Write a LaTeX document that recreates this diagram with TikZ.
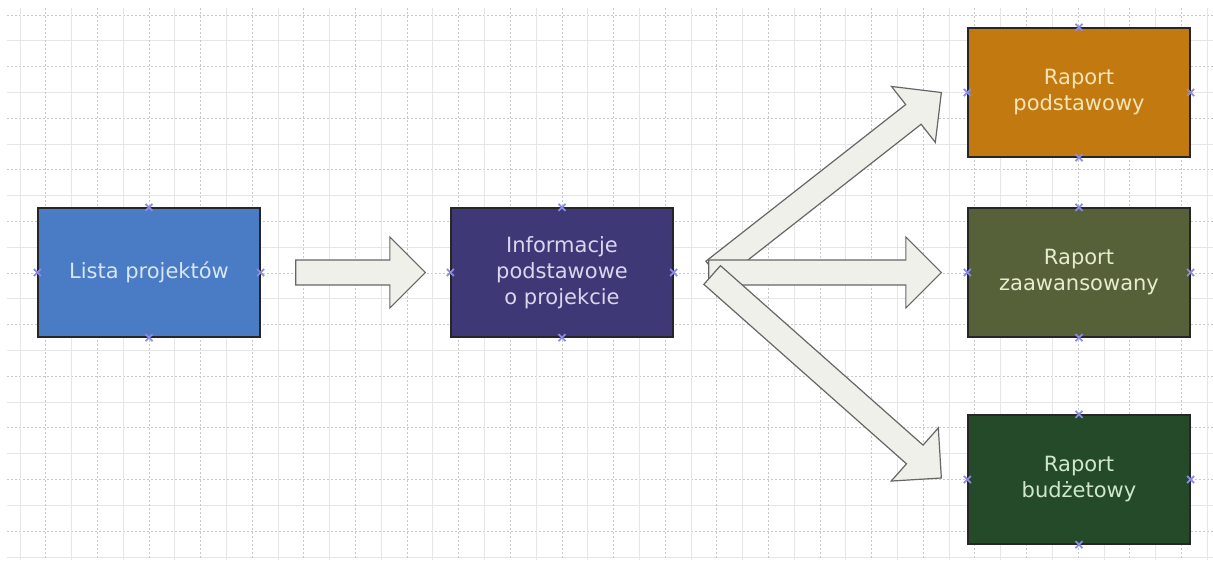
\documentclass[tikz,border=0pt]{standalone}
\usepackage{fontspec}
\setmainfont{DejaVu Sans}
\usetikzlibrary{calc}
\definecolor{gridsolid}{HTML}{E6E6E6}
\definecolor{griddash}{HTML}{C8C8C8}
\definecolor{cblue}{HTML}{4A7BC5}
\definecolor{tblue}{HTML}{D6E6F5}
\definecolor{cpurple}{HTML}{3E3877}
\definecolor{tpurple}{HTML}{DAD6EE}
\definecolor{corange}{HTML}{C27A10}
\definecolor{torange}{HTML}{F7E4B8}
\definecolor{colive}{HTML}{56613A}
\definecolor{tolive}{HTML}{E6ECCE}
\definecolor{cgreen}{HTML}{244A29}
\definecolor{tgreen}{HTML}{D0E8CA}
\definecolor{afill}{HTML}{F0F0EA}
\definecolor{aline}{HTML}{666666}
\definecolor{xcol}{HTML}{8C8CE6}
\tikzset{
  gsolid/.style={draw=gridsolid, line width=1pt},
  gdash/.style={draw=griddash, line width=1pt, dash pattern=on 2pt off 2pt},
  box/.style={draw=black!85, line width=1.3pt, minimum width=222pt, minimum height=129pt,
    inner sep=0pt, align=center, font=\fontsize{21}{26}\selectfont},
  barrow/.style={draw=aline, fill=afill, line width=1.2pt, line join=miter},
  xm/.style={draw=xcol, line width=1.8pt},
}
\newcommand\blockarrow[3]{%
  \coordinate (#1hb) at ($(#3)!35.5pt!(#2)$);
  \draw[barrow] ($(#2)!12.5pt!90:(#3)$) -- ($(#1hb)!12.5pt!90:(#3)$)
    -- ($(#1hb)!35.5pt!90:(#3)$) -- (#3) -- ($(#1hb)!35.5pt!-90:(#3)$)
    -- ($(#1hb)!12.5pt!-90:(#3)$) -- ($(#2)!12.5pt!-90:(#3)$) -- cycle;
}
\begin{document}
\begin{tikzpicture}[x=1pt, y=-1pt]
\useasboundingbox[fill=white] (0,0) rectangle (1213,563);
% grid
\foreach \k in {0,...,21} {
  \pgfmathsetmacro\yy{15+\k*25.81}
  \ifodd\k
    \draw[gsolid] (7,\yy) -- (1213,\yy);
  \else
    \draw[gdash] (7,\yy) -- (1213,\yy);
  \fi
}
\foreach \j in {0,...,46} {
  \pgfmathsetmacro\xx{20+\j*25.81}
  \ifodd\j
    \draw[gdash] (\xx,8) -- (\xx,560);
  \else
    \draw[gsolid] (\xx,8) -- (\xx,560);
  \fi
}
% boxes
\node[box, fill=cblue, text=tblue] (lista) at (149,272.5) {Lista projektów};
\node[box, fill=cpurple, text=tpurple] (info) at (562,272.5) {Informacje\\podstawowe\\o projekcie};
\node[box, fill=corange, text=torange] (rp) at (1079,92.5) {Raport\\podstawowy};
\node[box, fill=colive, text=tolive] (rz) at (1079,272.5) {Raport\\zaawansowany};
\node[box, fill=cgreen, text=tgreen] (rb) at (1079,479.5) {Raport\\budżetowy};
% arrow end points
\coordinate (a1s) at ([xshift=35pt]lista.east);
\coordinate (a1e) at ([xshift=-25pt]info.west);
\coordinate (aus) at ([xshift=40pt,yshift=1.5pt]info.east);
\coordinate (aue) at ([xshift=-26pt]rp.west);
\coordinate (ams) at ([xshift=35pt]info.east);
\coordinate (ame) at ([xshift=-26pt]rz.west);
\coordinate (als) at ([xshift=38.5pt,yshift=-2.5pt]info.east);
\coordinate (ale) at ([xshift=-26pt,yshift=1.5pt]rb.west);
% block arrows
\blockarrow{a1}{a1s}{a1e}
\blockarrow{au}{aus}{aue}
\blockarrow{am}{ams}{ame}
\blockarrow{al}{als}{ale}
% connection marks
\foreach \b in {lista,info,rp,rz,rb} {
  \foreach \a in {north,south,east,west} {
    \draw[xm] ([shift={(-3.5,-3.5)}]\b.\a) -- ([shift={(3.5,3.5)}]\b.\a);
    \draw[xm] ([shift={(-3.5,3.5)}]\b.\a) -- ([shift={(3.5,-3.5)}]\b.\a);
  }
}
\end{tikzpicture}
\end{document}
